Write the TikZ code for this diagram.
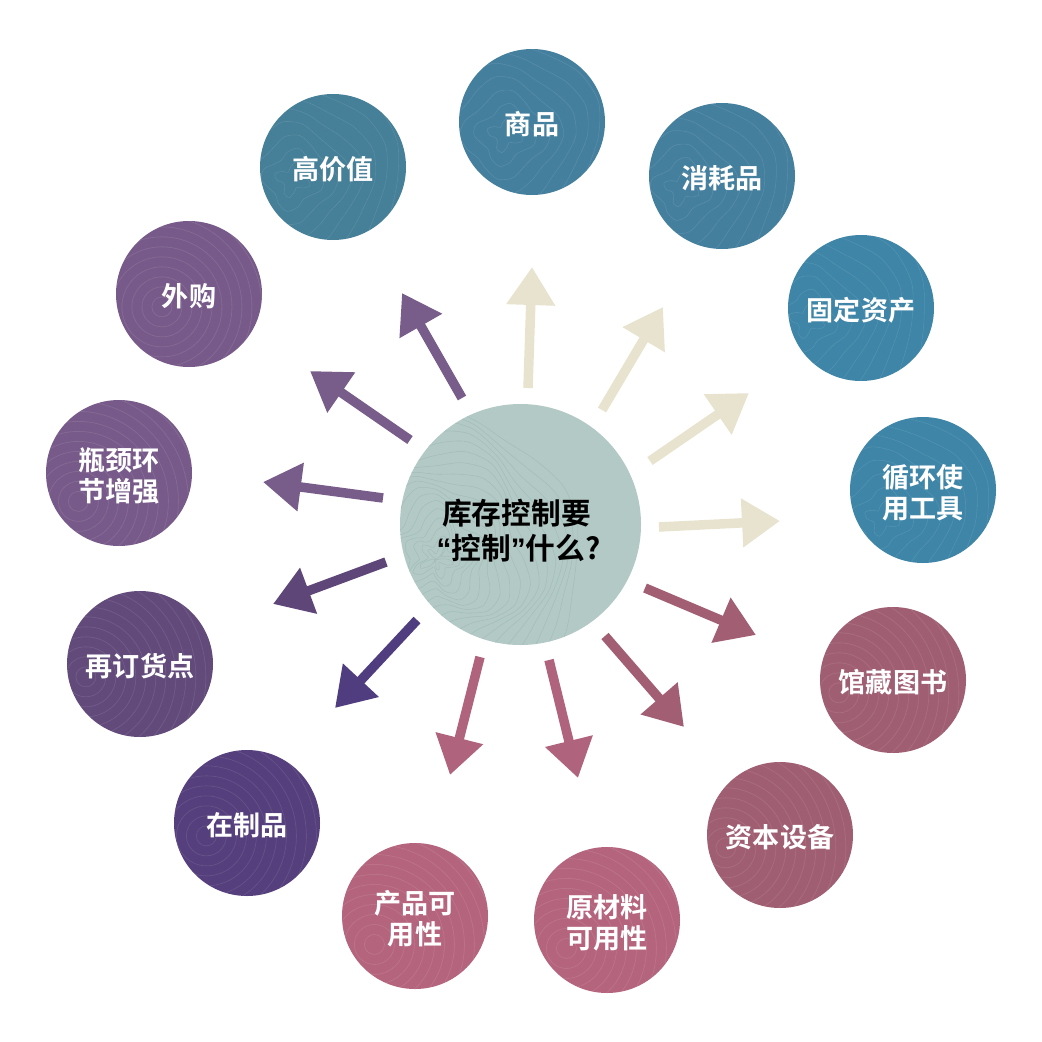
\documentclass[tikz,border=0pt]{standalone}
\usepackage{fontspec}
\setmainfont{Noto Sans CJK SC}[BoldFont={Noto Sans CJK SC Bold}]
\newfontfamily\quotefont{Liberation Sans}
\usetikzlibrary{arrows.meta}
\definecolor{cCenter}{HTML}{B3C9C5}
\definecolor{cLine}{HTML}{A3BDB9}
\definecolor{cCream}{HTML}{E8E3CF}
\definecolor{cBlueA}{HTML}{457F98}
\definecolor{cBlueB}{HTML}{447F9E}
\definecolor{cBlueC}{HTML}{3E85A7}
\definecolor{cPlumA}{HTML}{A05E72}
\definecolor{cPlumB}{HTML}{B5647D}
\definecolor{cViolA}{HTML}{553F7C}
\definecolor{cViolB}{HTML}{624A7B}
\definecolor{cViolC}{HTML}{775A89}
\definecolor{cArrA}{HTML}{A25F74}
\definecolor{cArrB}{HTML}{B0637C}
\definecolor{cArrC}{HTML}{4F3D7F}
\definecolor{cArrD}{HTML}{5E4679}
\definecolor{cArrE}{HTML}{785C8A}
\newcommand\dropA{\rule{0pt}{1.04em}}
\newcommand\dropB{\rule{0pt}{1.25em}}
\tikzset{
  bubble/.style={circle,minimum size=146*0.75pt,inner sep=0pt,align=center,text=white,
    font=\bfseries\fontsize{20.3}{23.5}\selectfont},
  waves/.style={path picture={
    \foreach \r in {9,18,...,108}{
      \draw[shift={(path picture bounding box.north west)},white,opacity=.1,line width=.45pt]
        plot[smooth cycle,domain=0:340,samples=18]
        ({(\r*1.5+5*sin(4*\x+\r*3))*cos(\x)},{(\r*1.5+5*sin(4*\x+\r*3))*sin(\x)});
    }}},
  rings/.style={path picture={
    \foreach \r in {10,20,...,170}{
      \draw[white,opacity=.06,line width=.6pt,shift={(path picture bounding box.south west)}] (0,0) circle[radius=\r];
      \draw[white,opacity=.04,line width=.6pt,shift={(path picture bounding box.north east)}] (0,0) circle[radius=\r];
    }}},
  hub/.style={circle,minimum size=241*0.75pt,inner sep=0pt,align=center,text=black,fill=cCenter,
    font=\bfseries\fontsize{22.3}{26.3}\selectfont,
    path picture={
    \foreach \r in {8,16,...,144}{
      \draw[shift={(path picture bounding box.center)},cLine,line width=.4pt]
        plot[smooth cycle,domain=0:345,samples=24]
        ({(\r+7*sin(5*\x+\r*4)+4*sin(3*\x))*cos(\x)},{(\r+7*sin(5*\x+\r*4)+4*sin(3*\x))*sin(\x)});
    }}},
  ray/.style={line width=9.5*0.75pt,-{Triangle[length=38*0.75pt,width=46.5*0.75pt]}}
}
\begin{document}
\begin{tikzpicture}[x=0.75pt,y=-0.75pt]
\fill[white] (0,0) rectangle (1042,1042);
\useasboundingbox (0,0) rectangle (1042,1042);
% hub
\node[hub] (hub) at (520.5,524.5) {\dropB 库存控制要\hspace*{6pt}\\{\quotefont “}控制{\quotefont ”}什么?\hspace*{3pt}};
% outer bubbles
\node[bubble,fill=cBlueB,waves] (n1) at (532,122) {\dropA 商品};
\node[bubble,fill=cBlueB,waves] (n2) at (722,176) {\dropA 消耗品};
\node[bubble,fill=cBlueC,waves] (n3) at (861,308) {\dropA 固定资产};
\node[bubble,fill=cBlueC,waves] (n4) at (923,490) {\dropA 循环使\\用工具};
\node[bubble,fill=cPlumA,rings] (n5) at (893,680) {\dropA 馆藏图书};
\node[bubble,fill=cPlumA,rings] (n6) at (780,835) {\dropA 资本设备};
\node[bubble,fill=cPlumB,rings] (n7) at (607,920) {\dropA 原材料\\可用性};
\node[bubble,fill=cPlumB,rings] (n8) at (415,916) {\dropA 产品可\\用性};
\node[bubble,fill=cViolA,rings] (n9) at (247,823) {\dropA 在制品};
\node[bubble,fill=cViolB,rings] (n10) at (140,664) {\dropA 再订货点};
\node[bubble,fill=cViolC,rings] (n11) at (119,473) {\dropA 瓶颈环\\节增强};
\node[bubble,fill=cViolC,rings] (n12) at (189,294) {\dropA 外购};
\node[bubble,fill=cBlueA,waves] (n13) at (333,167) {\dropA 高价值};
% arrows: free-floating ends
\foreach \nm/\ax/\ay/\bx/\by/\col in {
  1/528/388/532/267/cCream,
  2/602/410/663/307/cCream,
  3/650/461/749/393/cCream,
  4/659/527/780/521/cCream,
  5/645/588/756/635/cArrA,
  6/605/636/684/727/cArrA,
  7/549/660/578/778/cArrB,
  8/480/657/450/775/cArrB,
  9/417/620/335/708/cArrC,
  10/386/562/273/604/cArrD,
  11/383/498/263/482/cArrE,
  12/410/440/310/371/cArrE,
  13/462/398/402/293/cArrE}{
  \coordinate (s\nm) at (\ax,\ay);
  \coordinate (e\nm) at (\bx,\by);
  \draw[ray,\col] (s\nm) -- (e\nm);
}
\end{tikzpicture}
\end{document}
